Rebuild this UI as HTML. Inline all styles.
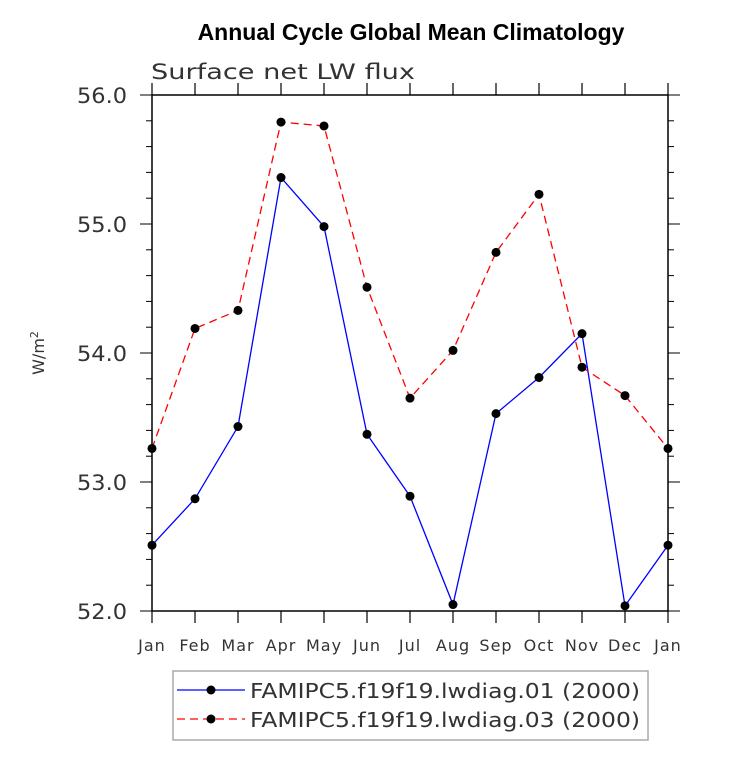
<!DOCTYPE html>
<html><head><meta charset="utf-8"><style>
body{margin:0;background:#fff;}
svg text{font-family:"DejaVu Sans","Liberation Sans",sans-serif;}
</style></head><body>
<svg id="c" width="733" height="760">
<text x="411" y="40" text-anchor="middle" font-family="Liberation Sans" font-weight="bold" font-size="23" style="font-family:'Liberation Sans',sans-serif">Annual Cycle Global Mean Climatology</text>
<text x="151" y="79" font-size="21" fill="#333" textLength="264" lengthAdjust="spacingAndGlyphs">Surface net LW flux</text>
<text transform="translate(44,353) rotate(-90)" text-anchor="middle" font-size="16" fill="#333">W/m<tspan dy="-6" font-size="11">2</tspan></text>
<g id="axes"></g>
<g id="series"></g>
<g>
<rect x="173" y="671" width="475" height="69" fill="#fff" stroke="#aaa" stroke-width="1.5"/>
<line x1="177" y1="690" x2="245" y2="690" stroke="#00f" stroke-width="1.2"/>
<circle cx="211" cy="690" r="4.5" fill="#000"/>
<text x="250" y="698" font-size="20" fill="#333" textLength="390" lengthAdjust="spacingAndGlyphs">FAMIPC5.f19f19.lwdiag.01 (2000)</text>
<line x1="177" y1="719" x2="245" y2="719" stroke="#f00" stroke-width="1.2" stroke-dasharray="8,5"/>
<circle cx="211" cy="719" r="4.5" fill="#000"/>
<text x="250" y="727" font-size="20" fill="#333" textLength="390" lengthAdjust="spacingAndGlyphs">FAMIPC5.f19f19.lwdiag.03 (2000)</text>
</g>
</svg>
<script>
const months=["Jan","Feb","Mar","Apr","May","Jun","Jul","Aug","Sep","Oct","Nov","Dec","Jan"];
const yTicks=[52.0,53.0,54.0,55.0,56.0];
const seriesBlue=[52.51,52.87,53.43,55.36,54.98,53.37,52.89,52.05,53.53,53.81,54.15,52.04,52.51];
const seriesRed=[53.26,54.19,54.33,55.79,55.76,54.51,53.65,54.02,54.78,55.23,53.89,53.67,53.26];
const L=152,R=668,T=95,B=611,ymin=52,ymax=56;
const xs=i=>L+(R-L)*i/12;
const ys=v=>B-(v-ymin)/(ymax-ymin)*(B-T);
const NS="http://www.w3.org/2000/svg";
function mk(t,a,p){const e=document.createElementNS(NS,t);for(const k in a)e.setAttribute(k,a[k]);p.appendChild(e);return e;}
const ax=document.getElementById('axes');
const fr=mk('rect',{x:L,y:T,width:R-L,height:B-T,fill:'none',stroke:'#000','stroke-width':1.5},ax);


months.forEach((m,i)=>{
 const x=xs(i);
 mk('line',{x1:x,y1:B,x2:x,y2:B+12,stroke:'#000','stroke-width':1.2},ax);
 mk('line',{x1:x,y1:T,x2:x,y2:T-12,stroke:'#000','stroke-width':1.2},ax);
 const t=mk('text',{x:x,y:B+40,'text-anchor':'middle','font-size':16,fill:'#333','letter-spacing':1},ax);
 t.textContent=m;
 
 
});
for(let v=ymin;v<=ymax+1e-9;v+=0.2){
 const y=ys(v);const major=Math.abs(v-Math.round(v))<1e-6;const len=major?12:6;
 mk('line',{x1:L,y1:y,x2:L-len,y2:y,stroke:'#000','stroke-width':1},ax);
 mk('line',{x1:R,y1:y,x2:R+len,y2:y,stroke:'#000','stroke-width':1},ax);
}
yTicks.forEach(v=>{
 const t=mk('text',{x:127,y:ys(v)+8,'text-anchor':'end','font-size':21,fill:'#333',textLength:50,lengthAdjust:'spacingAndGlyphs'},ax);
 t.textContent=v.toFixed(1);
 
 
});
const sg=document.getElementById('series');
function draw(data,color,dash,name){
 const g=mk('g',{},sg);
 
 
 const pts=data.map((v,i)=>xs(i)+','+ys(v)).join(' ');
 const a={points:pts,fill:'none',stroke:color,'stroke-width':1.3};
 if(dash)a['stroke-dasharray']=dash;
 mk('polyline',a,g);
 data.forEach((v,i)=>{
  const c=mk('circle',{cx:xs(i),cy:ys(v),r:4.5,fill:'#000'},g);
  
  
 });
}
draw(seriesBlue,'#00f',null,'series-lwdiag01');
draw(seriesRed,'#f00','8,5','series-lwdiag03');
</script>
</body></html>
